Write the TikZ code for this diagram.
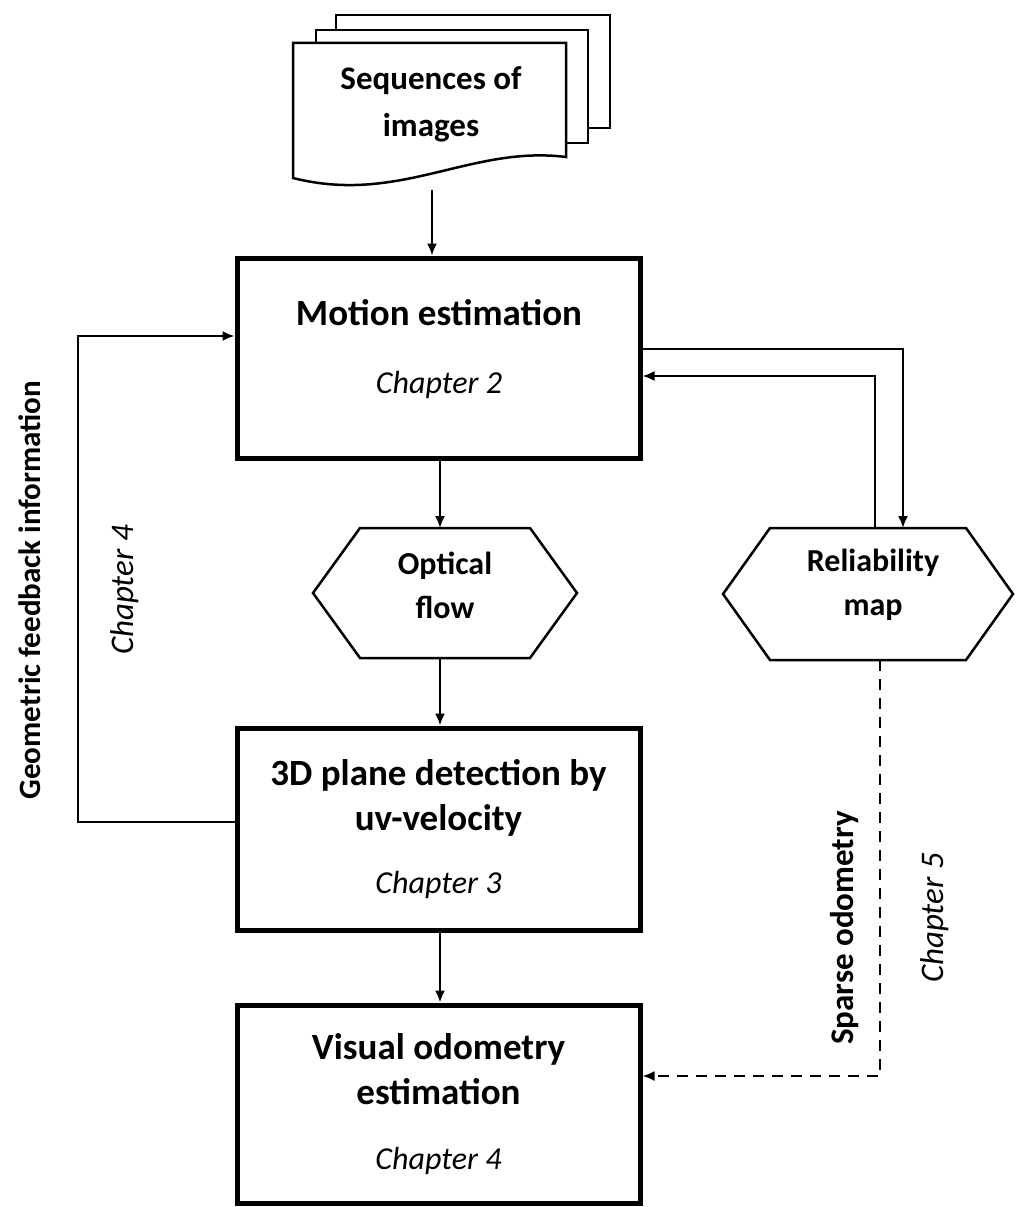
\documentclass[tikz,border=0pt]{standalone}
\usepackage{fontspec}
\setmainfont{Carlito}
\usetikzlibrary{arrows.meta}
\begin{document}
\begin{tikzpicture}[x=1pt,y=-1pt,
  box/.style={draw, line width=5pt, minimum width=403pt, align=center,
    font=\fontsize{37}{45}\selectfont\bfseries, inner sep=0pt},
  hexnode/.style={draw=none, align=center, font=\fontsize{32}{44}\selectfont\bfseries,
    inner sep=0pt, outer sep=0pt},
  hexline/.style={line width=2.5pt, line join=miter},
  docline/.style={line width=2.5pt, fill=white, line join=miter},
  arr/.style={line width=2pt, -{Latex[length=12pt,width=10pt]}},
  chapbox/.style={font=\mdseries\itshape\fontsize{32}{36}\selectfont},
  chap/.style={font=\fontsize{33}{36}\selectfont\itshape},
  side/.style={font=\fontsize{31}{36}\selectfont\bfseries, rotate=90}
]
\useasboundingbox[fill=white] (0,0) rectangle (1015,1207);

% document stack
\draw[docline] (336,15) rectangle (610,128);
\draw[docline] (316,30) rectangle (588,143);
\draw[docline] (293,43) -- (566,43) -- (566,157)
  .. controls (470,145) and (400,205) .. (293,178) -- cycle;
\node[hexnode, font=\fontsize{33}{47}\selectfont\bfseries] (doc) at (431,104) {Sequences of\\images};
\coordinate (docout) at (432,190);

% main boxes
\node[box, minimum height=200pt] (motion) at (438.5,358) {};
\node[box, draw=none, inner sep=0pt] (motiontxt) at (439,349)
  {Motion estimation\\[23pt]{\mdseries\itshape\fontsize{32}{36}\selectfont Chapter 2}};
\node[box, minimum height=202pt] (pd) at (438.5,829)
  {3D plane detection by\\uv-velocity\\[18pt]{\mdseries\itshape\fontsize{32}{36}\selectfont Chapter 3}};
\node[box, minimum height=198pt] (vo) at (438.5,1104)
  {Visual odometry\\estimation\\[20pt]{\mdseries\itshape\fontsize{32}{36}\selectfont Chapter 4}};

% hexagons
\node[hexnode, minimum width=264pt, minimum height=130pt] (of) at (445,593) {};
\node[hexnode] (oftxt) at (445,585) {Optical\\flow};
\draw[hexline] (of.west) -- ([xshift=47pt]of.north west) -- ([xshift=-47pt]of.north east)
  -- (of.east) -- ([xshift=-47pt]of.south east) -- ([xshift=47pt]of.south west) -- cycle;
\node[hexnode, minimum width=290pt, minimum height=132pt] (rm) at (868,594) {};
\node[hexnode] (rmtxt) at (873,585) {Reliability\\map};
\draw[hexline] (rm.west) -- ([xshift=47pt]rm.north west) -- ([xshift=-47pt]rm.north east)
  -- (rm.east) -- ([xshift=-47pt]rm.south east) -- ([xshift=47pt]rm.south west) -- cycle;

% connectors
\draw[arr] (docout) -- (docout |- motion.north);
\draw[arr] ([xshift=1.5pt]motion.south) -- ([xshift=1.5pt]motion.south |- of.north);
\draw[arr] ([xshift=1.5pt]of.south -| motion.south) -- ([xshift=1.5pt]motion.south |- pd.north);
\draw[arr] ([xshift=1.5pt]pd.south) -- ([xshift=1.5pt]pd.south |- vo.north);
\draw[arr] ([yshift=9pt]motion.east) -| ([xshift=35pt]rm.north);
\draw[arr] ([xshift=7pt]rm.north) |- ([yshift=-18pt]motion.east);
\draw[arr] ([yshift=7pt]pd.west) -- ++(-157,0) |- ([yshift=22pt]motion.west);
\draw[arr, dash pattern=on 11pt off 8pt] ([xshift=12pt]rm.south) |- ([yshift=28pt]vo.east);

% side labels
\node[side] (geo) at (30,590) {Geometric feedback information};
\node[chap, rotate=90] (ch4) at (125,590) {Chapter 4};
\node[side, font=\fontsize{33}{36}\selectfont\bfseries] (sparse) at (845,928) {Sparse odometry};
\node[chap, rotate=90] (ch5) at (935,918) {Chapter 5};
\end{tikzpicture}
\end{document}
